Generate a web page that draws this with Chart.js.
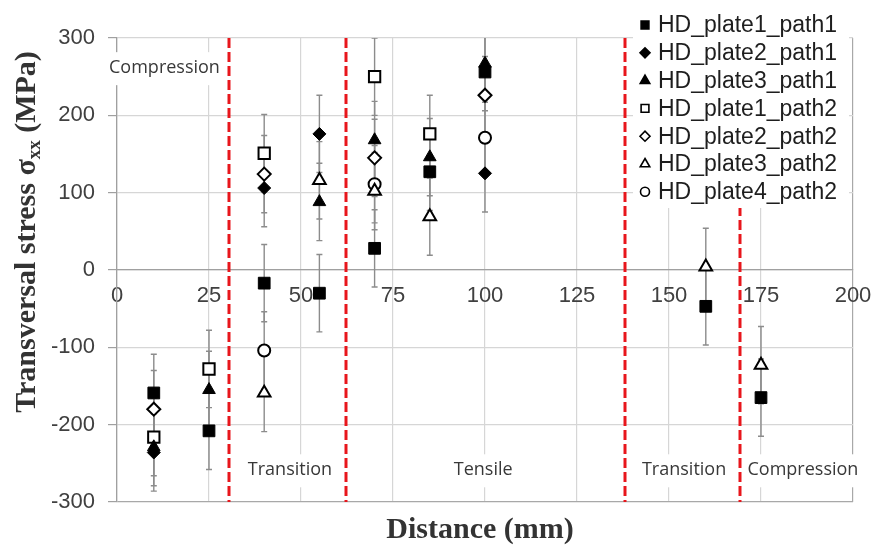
<!DOCTYPE html>
<html>
<head>
<meta charset="utf-8">
<script src="https://cdn.jsdelivr.net/npm/chart.js@4.4.0/dist/chart.umd.min.js"></script>
<style>
  body { margin: 0; background: #fff; }
  #wrap { width: 875px; height: 545px; position: relative; }
</style>
</head>
<body>
<div id="wrap"><canvas id="stressChart"></canvas></div>
<script>
// distance (mm), stress (MPa) and error (+/- MPa) for every plate / path
const plate1path1X = [10, 25, 40, 55, 70, 85, 100, 160, 175];
const plate1path1Y = [-159, -208, -17, -30, 28, 127, 256, -47, -165];
const plate1path1Err = [50, 50, 50, 50, 50, 50, 50, 50, 50];

const plate2path1X = [10, 40, 55, 100];
const plate2path1Y = [-236, 106, 176, 125];
const plate2path1Err = [50, 50, 50, 50];

const plate3path1X = [10, 25, 55, 70, 85, 100];
const plate3path1Y = [-229, -155, 88, 168, 146, 267];
const plate3path1Err = [50, 50, 50, 50, 50, 50];

const plate1path2X = [10, 25, 40, 70, 85];
const plate1path2Y = [-216, -128, 151, 250, 176];
const plate1path2Err = [50, 50, 50, 50, 50];

const plate2path2X = [10, 40, 70, 100];
const plate2path2Y = [-180, 124, 145, 226];
const plate2path2Err = [50, 50, 50, 50];

const plate3path2X = [40, 55, 70, 85, 160, 175];
const plate3path2Y = [-159, 116, 102, 69, 4, -123];
const plate3path2Err = [50, 50, 50, 50, 50, 50];

const plate4path2X = [40, 70, 100];
const plate4path2Y = [-104, 111, 171];
const plate4path2Err = [50, 50, 50];

const seriesNames = ['HD_plate1_path1', 'HD_plate2_path1', 'HD_plate3_path1',
  'HD_plate1_path2', 'HD_plate2_path2', 'HD_plate3_path2', 'HD_plate4_path2'];

// zone boundaries (mm) and zone labels
const zoneBounds = [30.4, 62.2, 138, 169.3];
const zoneLabels = ['Compression', 'Transition', 'Tensile', 'Transition', 'Compression'];
const zoneLabelX = [12.9, 47, 99.5, 154.1, 186.4];
const zoneLabelY = [261, -259, -259, -259, -259];

const xTicks = [0, 25, 50, 75, 100, 125, 150, 175, 200];
const yTicks = [-300, -200, -100, 0, 100, 200, 300];

function pts(xs, ys, errs) {
  return xs.map((x, i) => ({ x: x, y: ys[i], err: errs[i] }));
}

const styles = [
  { pointStyle: 'rect', fill: '#000', radius: 8.3, lr: 5.5 },
  { pointStyle: 'rectRot', fill: '#000', radius: 6.5, lr: 5 },
  { pointStyle: 'triangle', fill: '#000', radius: 7.3, lr: 5.5 },
  { pointStyle: 'rect', fill: '#fff', radius: 8, lr: 5.5 },
  { pointStyle: 'rectRot', fill: '#fff', radius: 6.5, lr: 5 },
  { pointStyle: 'triangle', fill: '#fff', radius: 7.3, lr: 5.5 },
  { pointStyle: 'circle', fill: '#fff', radius: 6, lr: 4.5 }
];
const allData = [
  pts(plate1path1X, plate1path1Y, plate1path1Err),
  pts(plate2path1X, plate2path1Y, plate2path1Err),
  pts(plate3path1X, plate3path1Y, plate3path1Err),
  pts(plate1path2X, plate1path2Y, plate1path2Err),
  pts(plate2path2X, plate2path2Y, plate2path2Err),
  pts(plate3path2X, plate3path2Y, plate3path2Err),
  pts(plate4path2X, plate4path2Y, plate4path2Err)
];

const datasets = seriesNames.map((name, i) => ({
  label: name,
  data: allData[i],
  pointStyle: styles[i].pointStyle,
  pointRadius: styles[i].radius,
  pointBackgroundColor: styles[i].fill,
  pointBorderColor: '#000',
  pointBorderWidth: styles[i].fill === '#fff' ? 2 : 1,
  legendRadius: styles[i].lr,
  showLine: false
}));

// error bars, zone lines and zone labels under the markers
const underlay = {
  id: 'underlay',
  beforeDatasetsDraw(chart) {
    const ctx = chart.ctx;
    const xs = chart.scales.x, ys = chart.scales.y;
    const area = chart.chartArea;
    ctx.save();

    // dashed red zone boundaries
    ctx.strokeStyle = '#e8161c';
    ctx.lineWidth = 3;
    ctx.setLineDash([10, 4]);
    zoneBounds.forEach(b => {
      const px = Math.round(xs.getPixelForValue(b));
      ctx.beginPath();
      ctx.moveTo(px, area.top);
      ctx.lineTo(px, area.bottom);
      ctx.stroke();
    });
    ctx.setLineDash([]);

    // zone labels with white boxes
    ctx.font = '18px "Open Sans"';
    ctx.textAlign = 'center';
    ctx.textBaseline = 'middle';
    zoneLabels.forEach((t, i) => {
      const px = xs.getPixelForValue(zoneLabelX[i]);
      const py = ys.getPixelForValue(zoneLabelY[i]);
      const w = ctx.measureText(t).width + 6;
      ctx.fillStyle = '#fff';
      ctx.fillRect(px - w / 2, py - 16, w, 33);
      ctx.fillStyle = '#383838';
      ctx.fillText(t, px, py);
    });

    // error bars
    ctx.beginPath();
    ctx.rect(area.left, area.top, area.right - area.left, area.bottom - area.top);
    ctx.clip();
    ctx.strokeStyle = '#8c8c8c';
    ctx.lineWidth = 1.4;
    chart.data.datasets.forEach(ds => {
      ds.data.forEach(p => {
        const px = xs.getPixelForValue(p.x);
        const top = ys.getPixelForValue(p.y + p.err);
        const bot = ys.getPixelForValue(p.y - p.err);
        ctx.beginPath();
        ctx.moveTo(px, top); ctx.lineTo(px, bot);
        ctx.moveTo(px - 3, top); ctx.lineTo(px + 3, top);
        ctx.moveTo(px - 3, bot); ctx.lineTo(px + 3, bot);
        ctx.stroke();
      });
    });
    ctx.restore();
  }
};

// legend box, axis titles
const overlay = {
  id: 'overlay',
  afterDatasetsDraw(chart) {
    const ctx = chart.ctx;
    ctx.save();
    ctx.fillStyle = '#fff';
    ctx.fillRect(633, 8, 216, 200);
    ctx.font = '23px "Liberation Sans"';
    ctx.textAlign = 'left';
    ctx.textBaseline = 'middle';
    chart.data.datasets.forEach((ds, i) => {
      const y = 25 + i * 27.8;
      ctx.fillStyle = ds.pointBackgroundColor;
      ctx.strokeStyle = '#000';
      ctx.lineWidth = 1.6;
      Chart.helpers.drawPoint(ctx, {
        pointStyle: ds.pointStyle, radius: ds.legendRadius, borderWidth: 1.6, rotation: 0
      }, 645, y);
      ctx.fillStyle = '#1e1e1e';
      ctx.fillText(ds.label, 658, y + 1);
    });

    // x title
    ctx.fillStyle = '#333';
    ctx.font = 'bold 30px "Liberation Serif"';
    ctx.textAlign = 'center';
    ctx.fillText('Distance (mm)', 480, 530);

    // y title with subscript
    const main1 = 'Transversal stress \u03c3';
    const sub = 'xx';
    const main2 = ' (MPa)';
    const bigFont = 'bold 30px "Liberation Serif"';
    const subFont = 'bold 19px "Liberation Serif"';
    ctx.font = bigFont;
    const w1 = ctx.measureText(main1).width;
    const w3 = ctx.measureText(main2).width;
    ctx.font = subFont;
    const w2 = ctx.measureText(sub).width;
    const total = w1 + w2 + w3;
    ctx.translate(27, 232);
    ctx.rotate(-Math.PI / 2);
    ctx.textAlign = 'left';
    let cx = -total / 2;
    ctx.font = bigFont;
    ctx.fillText(main1, cx, 0);
    cx += w1;
    ctx.font = subFont;
    ctx.fillText(sub, cx, 8);
    cx += w2;
    ctx.font = bigFont;
    ctx.fillText(main2, cx, 0);
    ctx.restore();
  }
};

new Chart(document.getElementById('stressChart'), {
  type: 'scatter',
  data: { datasets: datasets },
  options: {
    responsive: true,
    maintainAspectRatio: false,
    animation: false,
    events: [],
    layout: { padding: { left: 0, top: 38, right: 22, bottom: 43 } },
    plugins: { legend: { display: false }, tooltip: { enabled: false } },
    scales: {
      x: {
        type: 'linear',
        position: { y: 0 },
        min: 0, max: 200,
        afterBuildTicks: s => { s.ticks = xTicks.map(v => ({ value: v })); },
        ticks: {
          padding: 0,
          color: '#404040',
          font: { family: '"Liberation Sans"', size: 22 },
          maxRotation: 0
        },
        grid: {
          drawTicks: true,
          tickLength: 13,
          tickColor: 'rgba(0,0,0,0)',
          color: c => (c.tick && c.tick.value === 200 ? '#a8a8a8' : '#d6d6d6'),
          lineWidth: 1.2
        },
        border: { color: '#a0a0a0', width: 1.3 }
      },
      y: {
        type: 'linear',
        position: 'left',
        min: -300, max: 300,
        afterBuildTicks: s => { s.ticks = yTicks.map(v => ({ value: v })); },
        afterFit: s => { s.width = 117; },
        ticks: {
          padding: 13,
          color: '#404040',
          font: { family: '"Liberation Sans"', size: 22 }
        },
        grid: {
          tickLength: 9,
          tickColor: '#a0a0a0',
          color: c => (c.tick && c.tick.value === -300 ? '#a8a8a8' : '#d6d6d6'),
          lineWidth: 1.2
        },
        border: { color: '#a0a0a0', width: 1.3 }
      }
    }
  },
  plugins: [underlay, overlay]
});
</script>
</body>
</html>
